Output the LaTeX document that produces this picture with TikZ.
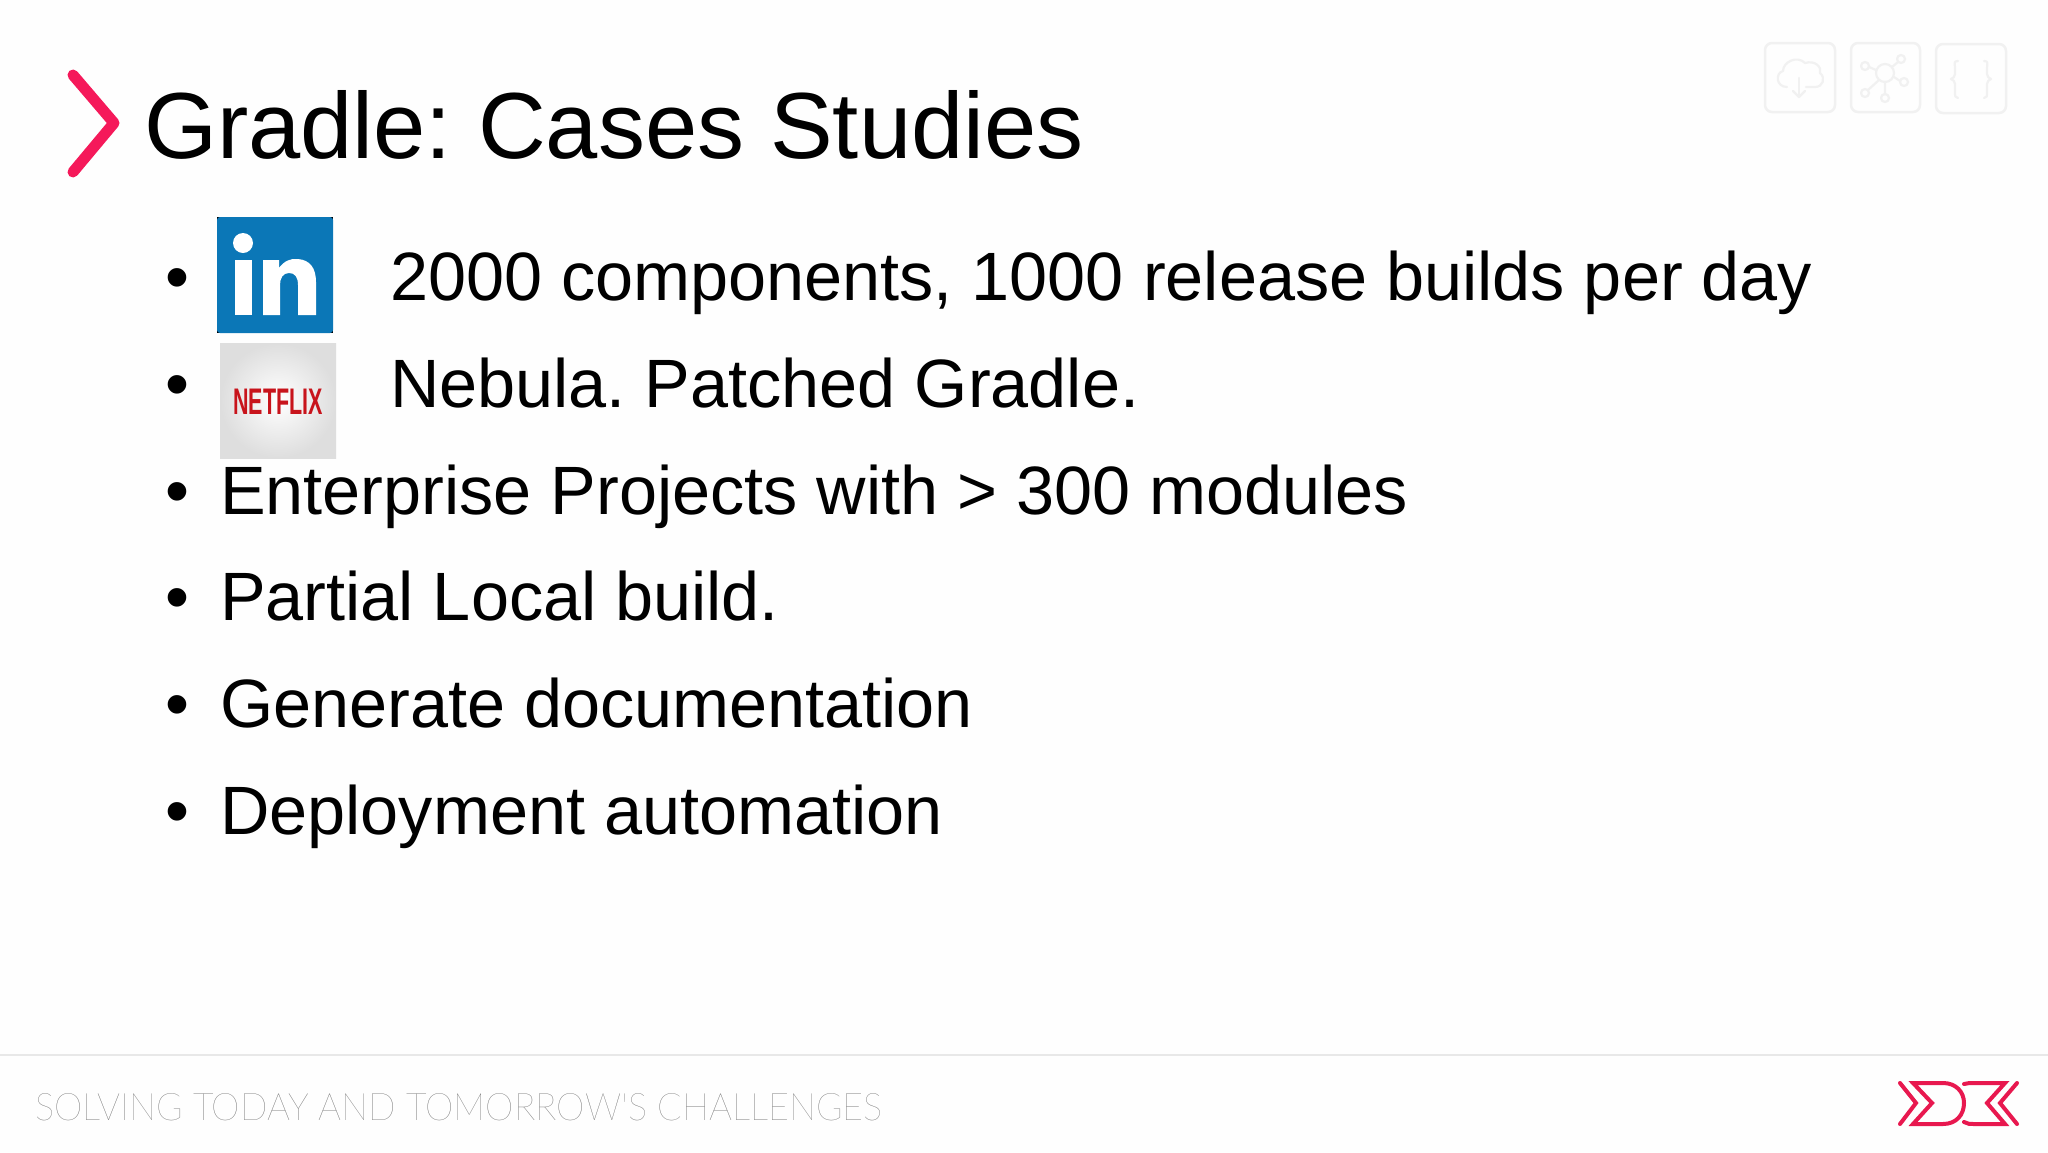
\documentclass[tikz,border=0pt]{standalone}
\usepackage{fontspec}
\setmainfont{Liberation Sans}
\newfontfamily\footfont{Lato}[UprightFont=* Hairline]
\frenchspacing
\definecolor{pinkred}{HTML}{F5195A}
\definecolor{lired}{HTML}{E8184F}
\definecolor{iconline}{HTML}{F1F1F1}
\definecolor{liblue}{HTML}{0B77B7}
\definecolor{nfred}{HTML}{C8141C}
\definecolor{footgray}{HTML}{666666}
\tikzset{
 x=1pt,y=-1pt,
 titletext/.style={anchor=base west,inner sep=0pt,font=\fontsize{93.9}{94}\selectfont,text=black},
 bodytext/.style={anchor=base west,inner sep=0pt,font=\fontsize{68.4}{68.5}\selectfont,text=black},
 bulletmark/.style={anchor=base west,inner sep=0pt,font=\fontsize{68.4}{68.5}\selectfont,text=black},
 iconbox/.style={draw=iconline,line width=2.5pt,rounded corners=7pt},
 iconstroke/.style={draw=iconline,line width=2.2pt,line cap=round,line join=round},
 logoline/.style={draw=lired,line width=4pt,line cap=round,line join=miter},
}
\begin{document}
\begin{tikzpicture}
\useasboundingbox (0,0) rectangle (2048,1152);
\fill[white!99.5!black] (0,0) rectangle (2048,1152);
% chevron
\draw[draw=pinkred,line width=11pt,line cap=round,line join=round] (73,75) -- (114,123) -- (73,172);
\node[titletext] (title) at (144,158) {Gradle: Cases Studies};
% bullets
\foreach \n/\y in {a/300,b/407,c/514,d/620,e/727,f/834}{
 \node[bulletmark] (bul\n) at (165,\y) {•};
}
\node[bodytext] (ta) at (390,300) {2000 components, 1000 release builds per day};
\node[bodytext] (tb) at (390,407) {Nebula. Patched Gradle.};
\node[bodytext] (tc) at (220,514) {Enterprise Projects with > 300 modules};
\node[bodytext] (td) at (220,620) {Partial Local build.};
\node[bodytext] (te) at (220,727) {Generate documentation};
\node[bodytext] (tf) at (220,834) {Deployment automation};
% linkedin
\fill[black] (217,217) rectangle (333,333);
\fill[liblue,rounded corners=3pt] (217,217) rectangle (333,333);
\fill[white] (243,243) circle (10);
\fill[white] (235,260) rectangle (252,315);
\fill[white] (263,260) -- (279,260) -- (279,268) .. controls (284,261) and (291,258) .. (298,259) .. controls (310,260) and (316,268) .. (316,282) -- (316,315) -- (298,315) -- (298,285) .. controls (298,277) and (295,273) .. (289,273) .. controls (283,273) and (280,278) .. (280,285) -- (280,315) -- (263,315) -- cycle;
% netflix
\shade[inner color=white,outer color=black!13] (220,343) rectangle (336,458);
\node[inner sep=0pt,text=nfred,font=\bfseries\fontsize{37}{37}\selectfont,xscale=0.58,transform shape] (nf) at (278,402) {NETFLIX};
% top icons
\draw[iconbox] (1765,43) rectangle (1835,112);
\draw[iconbox] (1851,43) rectangle (1920,112);
\draw[iconbox] (1936,44) rectangle (2006,113);
\draw[iconstroke] (1787,87) .. controls (1776,87) and (1775,73) .. (1783,71) .. controls (1783,62) and (1797,55) .. (1805,63) .. controls (1815,60) and (1822,67) .. (1820,73) .. controls (1826,78) and (1823,87) .. (1815,87) -- (1806,87);
\draw[iconstroke] (1799,78) -- (1799,97);
\draw[iconstroke] (1793,91) -- (1799,97) -- (1805,91);
\draw[iconstroke] (1885,73) circle (9);
\draw[iconstroke] (1865,66) circle (4);
\draw[iconstroke] (1901,59) circle (4);
\draw[iconstroke] (1904,82) circle (4);
\draw[iconstroke] (1865,93) circle (4);
\draw[iconstroke] (1885,98) circle (4);
\draw[iconstroke] (1869,67) -- (1876,70) (1898,62) -- (1892,67) (1900,81) -- (1894,77) (1868,90) -- (1879,80) (1885,94) -- (1885,82);
\draw[iconstroke] (1958,61) .. controls (1953,61) and (1955,64) .. (1955,68) -- (1955,74) .. controls (1955,77) and (1953,78) .. (1951,79) .. controls (1953,80) and (1955,81) .. (1955,84) -- (1955,92) .. controls (1955,96) and (1955,98) .. (1958,98);
\draw[iconstroke] (1984,61) .. controls (1989,61) and (1987,64) .. (1987,68) -- (1987,74) .. controls (1987,77) and (1989,78) .. (1991,79) .. controls (1989,80) and (1987,81) .. (1987,84) -- (1987,92) .. controls (1987,96) and (1987,98) .. (1984,98);
% footer
\draw[draw=black!9,line width=2pt] (0,1055) -- (2048,1055);
\node[anchor=base west,inner sep=0pt,text=footgray,font=\footfont\fontsize{38}{38}\selectfont,xscale=0.95,transform shape] (foot) at (35,1120) {SOLVING TODAY AND TOMORROW'S CHALLENGES};
% logo
\draw[logoline] (1900,1083) -- (1916,1103) -- (1900,1124);
\draw[logoline] (1913,1083) -- (1943,1083) .. controls (1956,1083) and (1964,1092) .. (1964,1103) .. controls (1964,1115) and (1956,1124) .. (1943,1124) -- (1913,1124) -- (1932,1103) -- cycle;
\draw[logoline] (1964,1084) .. controls (1967,1083) and (1970,1083) .. (1975,1083) -- (2005,1083) -- (1987,1103) -- (2005,1124) -- (1975,1124) .. controls (1970,1124) and (1967,1124) .. (1964,1122);
\draw[logoline] (2017,1083) -- (2000,1103) -- (2017,1124);
\end{tikzpicture}
\end{document}
